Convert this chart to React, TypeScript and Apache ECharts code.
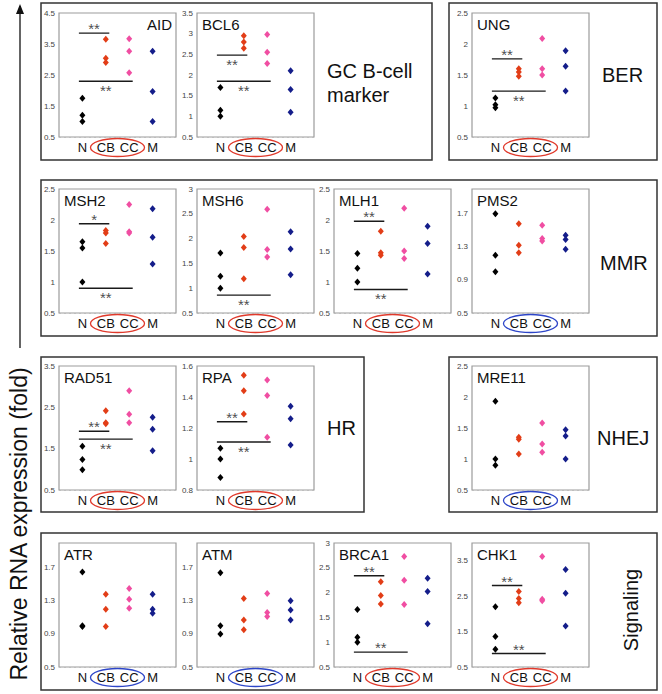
import React, { useEffect, useRef } from 'react';
import * as echarts from 'echarts';

const GROUPS = ['N', 'CB', 'CC', 'M'];
const GROUP_COLORS = ['#000000', '#e23d17', '#f04ea2', '#141d8a'];

// Relative RNA expression values per gene, order: [N, CB, CC, M]
const AID = [[1.75, 1.2, 1.0], [3.65, 3.04, 2.9], [3.67, 3.27, 2.57], [3.27, 1.97, 1.0]];
const BCL6 = [[1.7, 1.15, 1.0], [2.95, 2.8, 2.65], [2.98, 2.55, 2.28], [2.1, 1.65, 1.1]];
const UNG = [[1.13, 1.02, 0.97], [1.6, 1.55, 1.48], [2.09, 1.6, 1.5], [1.89, 1.64, 1.24]];
const MSH2 = [[1.65, 1.55, 1.0], [1.83, 1.79, 1.62], [2.25, 1.81, 1.79], [2.18, 1.72, 1.29]];
const MSH6 = [[1.71, 1.24, 1.0], [2.04, 1.82, 1.19], [2.59, 1.78, 1.63], [2.14, 1.79, 1.27]];
const MLH1 = [[1.46, 1.22, 1.0], [1.82, 1.47, 1.43], [2.19, 1.5, 1.38], [1.9, 1.62, 1.13]];
const PMS2 = [[1.7, 1.2, 1.0], [1.58, 1.32, 1.23], [1.56, 1.4, 1.37], [1.44, 1.39, 1.27]];
const RAD51 = [[1.56, 1.24, 0.99], [2.42, 2.13, 2.1], [2.9, 2.33, 2.13], [2.26, 1.97, 1.45]];
const RPA = [[1.07, 1.0, 0.88], [1.54, 1.44, 1.29], [1.51, 1.41, 1.14], [1.34, 1.26, 1.09]];
const MRE11 = [[1.93, 1.0, 0.9], [1.35, 1.32, 1.08], [1.58, 1.24, 1.11], [1.47, 1.37, 1.0]];
const ATR = [[1.65, 1.0, 0.99], [1.38, 1.2, 0.99], [1.45, 1.32, 1.21], [1.38, 1.2, 1.15]];
const ATM = [[1.64, 1.0, 0.9], [1.33, 1.07, 0.95], [1.39, 1.16, 1.11], [1.3, 1.19, 1.07]];
const BRCA1 = [[1.66, 1.1, 1.0], [2.22, 1.94, 1.77], [2.73, 2.25, 1.76], [2.29, 2.02, 1.37]];
const CHK1 = [[2.2, 1.36, 1.0], [2.63, 2.43, 2.31], [3.62, 2.41, 2.37], [3.25, 2.58, 1.66]];

// Significance bars: [from group, to group, y value, stars, stars above (1) / below (0)]
const AID_SIG = [[0, 1, 3.85, '**', 1], [0, 2, 2.3, '**', 0]];
const BCL6_SIG = [[0, 1, 2.48, '**', 0], [0, 2, 1.85, '**', 0]];
const UNG_SIG = [[0, 1, 1.76, '**', 1], [0, 2, 1.24, '**', 0]];
const MSH2_SIG = [[0, 1, 1.94, '*', 1], [0, 2, 0.9, '**', 0]];
const MSH6_SIG = [[0, 2, 0.86, '**', 0]];
const MLH1_SIG = [[0, 1, 1.98, '**', 1], [0, 2, 0.88, '**', 0]];
const RAD51_SIG = [[0, 1, 1.92, '**', 1], [0, 2, 1.73, '**', 0]];
const RPA_SIG = [[0, 1, 1.24, '**', 1], [0, 2, 1.11, '**', 0]];
const BRCA1_SIG = [[0, 1, 2.34, '**', 1], [0, 2, 0.8, '**', 1]];
const CHK1_SIG = [[0, 1, 2.8, '**', 1], [0, 2, 0.88, '**', 1]];

// Y axis ranges: [min, max, interval]
const Y_AID = [0.5, 4.5, 1];
const Y_BCL6 = [0.5, 3.5, 0.5];
const Y_UNG = [0.5, 2.5, 0.5];
const Y_MSH2 = [0.5, 2.5, 0.5];
const Y_MSH6 = [0.5, 3, 0.5];
const Y_MLH1 = [0.5, 2.5, 0.5];
const Y_PMS2 = [0.5, 2.0, 0.4];
const Y_RAD51 = [0.5, 3.5, 1];
const Y_RPA = [0.8, 1.6, 0.2];
const Y_MRE11 = [0.5, 2.5, 0.5];
const Y_ATR = [0.5, 2.0, 0.4];
const Y_ATM = [0.5, 2.0, 0.4];
const Y_BRCA1 = [0.5, 3, 0.5];
const Y_CHK1 = [0.5, 4, 1];

const PANELS: any[] = [
  { name: 'AID', values: AID, sig: AID_SIG, y: Y_AID, row: 0, col: 0, nameRight: true, ring: 'red' },
  { name: 'BCL6', values: BCL6, sig: BCL6_SIG, y: Y_BCL6, row: 0, col: 1, ring: 'red' },
  { name: 'UNG', values: UNG, sig: UNG_SIG, y: Y_UNG, row: 0, col: 3, ring: 'red' },
  { name: 'MSH2', values: MSH2, sig: MSH2_SIG, y: Y_MSH2, row: 1, col: 0, ring: 'red' },
  { name: 'MSH6', values: MSH6, sig: MSH6_SIG, y: Y_MSH6, row: 1, col: 1, ring: 'red' },
  { name: 'MLH1', values: MLH1, sig: MLH1_SIG, y: Y_MLH1, row: 1, col: 2, ring: 'red' },
  { name: 'PMS2', values: PMS2, sig: [], y: Y_PMS2, row: 1, col: 3, ring: 'blue' },
  { name: 'RAD51', values: RAD51, sig: RAD51_SIG, y: Y_RAD51, row: 2, col: 0, ring: 'red' },
  { name: 'RPA', values: RPA, sig: RPA_SIG, y: Y_RPA, row: 2, col: 1, ring: 'red' },
  { name: 'MRE11', values: MRE11, sig: [], y: Y_MRE11, row: 2, col: 3, ring: 'blue' },
  { name: 'ATR', values: ATR, sig: [], y: Y_ATR, row: 3, col: 0, ring: 'blue' },
  { name: 'ATM', values: ATM, sig: [], y: Y_ATM, row: 3, col: 1, ring: 'blue' },
  { name: 'BRCA1', values: BRCA1, sig: BRCA1_SIG, y: Y_BRCA1, row: 3, col: 2, ring: 'red' },
  { name: 'CHK1', values: CHK1, sig: CHK1_SIG, y: Y_CHK1, row: 3, col: 3, ring: 'red' },
];

const FONT = 'Liberation Sans, Arial, Helvetica, sans-serif';
const COL_X = [59, 197, 334, 472];
const ROW_Y = [13, 189, 366, 543];
const PW = 117;
const PH = 124;
const RING_COLORS: any = { red: '#e0392b', blue: '#2d45c8' };

const BOXES = [
  [41, 3, 391, 157],
  [449, 3, 208, 157],
  [41, 180, 616, 156],
  [41, 357, 323, 155],
  [449, 357, 208, 155],
  [41, 533, 616, 157],
];

export default function App() {
  const ref = useRef<HTMLDivElement>(null);
  useEffect(() => {
    document.body.style.margin = '0';
    const chart = echarts.init(ref.current!, null, { renderer: 'svg' });
    const grid: any[] = [];
    const xAxis: any[] = [];
    const yAxis: any[] = [];
    const series: any[] = [];
    const graphic: any[] = [];

    PANELS.forEach((p, i) => {
      const left = COL_X[p.col];
      const top = ROW_Y[p.row];
      const [ymin, ymax, yint] = p.y;
      const steps = (ymax - ymin) / yint;
      const hideMax = Math.abs(steps - Math.round(steps)) > 1e-6;
      grid.push({ left, top, width: PW, height: PH, show: true, borderColor: '#9c9c9c', borderWidth: 1.2, backgroundColor: '#fff', z: 1 });
      xAxis.push({
        type: 'value', gridIndex: i, min: 0, max: 5, interval: 1,
        axisLine: { show: false }, axisTick: { show: false }, splitLine: { show: false },
        axisLabel: { formatter: (v: number) => GROUPS[v - 1] ?? '', fontSize: 13, color: '#111', margin: 4, fontFamily: FONT },
      });
      yAxis.push({
        type: 'value', gridIndex: i, min: ymin, max: ymax, interval: yint,
        axisLine: { show: false }, axisTick: { show: false },
        splitLine: { show: true, lineStyle: { type: [2, 3], color: '#dedede', width: 1 } },
        axisLabel: { fontSize: 8, color: '#444', margin: 4, fontFamily: FONT, showMaxLabel: !hideMax },
      });
      p.values.forEach((vals: number[], g: number) => {
        series.push({
          type: 'scatter', xAxisIndex: i, yAxisIndex: i, symbol: 'diamond', symbolSize: [6, 7],
          itemStyle: { color: GROUP_COLORS[g], opacity: 1 }, data: vals.map((v) => [g + 1, v]), z: 4,
        });
      });
      p.sig.forEach((s: any[]) => {
        const [a, b, y, stars, above] = s;
        series.push({
          type: 'line', xAxisIndex: i, yAxisIndex: i, symbol: 'none',
          lineStyle: { color: '#1a1a1a', width: 1.4 }, data: [[a + 1 - 0.15, y], [b + 1 + 0.15, y]], z: 3,
        });
        series.push({
          type: 'scatter', xAxisIndex: i, yAxisIndex: i, symbolSize: 0, data: [[(a + b) / 2 + 1, y]], z: 5,
          label: {
            show: true, formatter: stars, position: above ? 'top' : 'bottom', distance: above ? -0.5 : 4.5,
            fontSize: 15, lineHeight: 10, color: '#1a1a1a', fontFamily: FONT,
          },
        });
      });
      graphic.push({
        type: 'text', x: p.nameRight ? left + PW - 4 : left + 5, y: top + 4, z: 10,
        style: { text: p.name, font: `15px ${FONT}`, fill: '#111', textAlign: p.nameRight ? 'right' : 'left', textVerticalAlign: 'top' },
      });
      graphic.push({
        type: 'ellipse', z: 10,
        shape: { cx: left + PW / 2, cy: top + PH + 10.5, rx: 27, ry: 9 },
        style: { fill: 'none', stroke: RING_COLORS[p.ring], lineWidth: 1.3 },
      });
    });

    BOXES.forEach(([x, y, w, h]) => {
      graphic.push({ type: 'rect', z: 0, shape: { x, y, width: w, height: h }, style: { fill: 'none', stroke: '#333', lineWidth: 1.5 } });
    });

    const bigText = (text: string, x: number, y: number) => ({
      type: 'text', x, y, z: 10,
      style: { text, font: `20px ${FONT}`, fill: '#111', textAlign: 'left', textVerticalAlign: 'middle' },
    });
    graphic.push(bigText('GC B-cell', 327, 71));
    graphic.push(bigText('marker', 327, 95));
    graphic.push(bigText('BER', 602, 75));
    graphic.push(bigText('MMR', 600, 263));
    graphic.push(bigText('HR', 327, 428));
    graphic.push(bigText('NHEJ', 597, 438));
    graphic.push({
      type: 'text', x: 631, y: 610, rotation: Math.PI / 2, z: 10,
      style: { text: 'Signaling', font: `20px ${FONT}`, fill: '#111', textAlign: 'center', textVerticalAlign: 'middle' },
    });
    graphic.push({
      type: 'text', x: 19, y: 524, rotation: Math.PI / 2, z: 10,
      style: { text: 'Relative RNA expression (fold)', font: `23px ${FONT}`, fill: '#111', textAlign: 'center', textVerticalAlign: 'middle' },
    });
    graphic.push({ type: 'line', z: 10, shape: { x1: 20, y1: 348, x2: 20, y2: 6 }, style: { stroke: '#111', lineWidth: 1.3 } });
    graphic.push({ type: 'polygon', z: 10, shape: { points: [[16, 14], [20, 4], [24, 14]] }, style: { fill: '#111' } });

    chart.setOption({
      animation: false,
      backgroundColor: '#fff',
      textStyle: { fontFamily: FONT },
      grid, xAxis, yAxis, series, graphic,
    });
    return () => chart.dispose();
  }, []);
  return <div ref={ref} style={{ width: 662, height: 694, position: 'absolute', left: 0, top: 0 }} />;
}
